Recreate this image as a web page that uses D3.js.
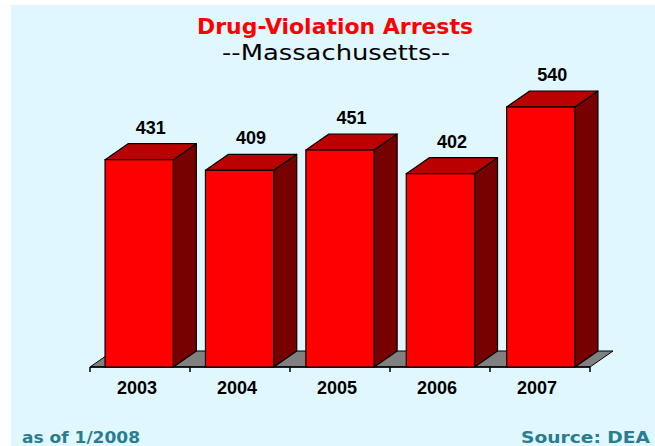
<!DOCTYPE html>
<html>
<head>
<meta charset="utf-8">
<script src="https://cdn.jsdelivr.net/npm/d3@7"></script>
<style>
  body { margin: 0; background: #fff; }
  svg { display: block; }
</style>
</head>
<body>
<script>
// chart data
var years = ['2003', '2004', '2005', '2006', '2007'];
var arrests = [431, 409, 451, 402, 540];

var width = 655, height = 446;
var depth = { dx: 23, dy: -16 };

var svg = d3.select('body').append('svg')
  .attr('width', width)
  .attr('height', height);

// light cyan panel
svg.append('rect')
  .attr('x', 11).attr('y', 5)
  .attr('width', width - 11).attr('height', height - 5)
  .attr('fill', '#e0f7fe');

// scales
var band = d3.scaleBand().domain(years).range([90, 590]);          // category slots / ticks
var x = d3.scaleBand().domain(years).range([90, 590])
  .paddingInner(0.32).paddingOuter(0.15);                             // bar fronts
var y = d3.scaleLinear().domain([0, 540]).range([368, 107]);

var base = y(0) - 1;

// titles
svg.append('text')
  .attr('x', 197).attr('y', 34)
  .attr('textLength', 276).attr('lengthAdjust', 'spacingAndGlyphs')
  .style('font-family', '"DejaVu Sans", sans-serif')
  .style('font-size', '21px')
  .style('font-weight', 'bold')
  .attr('fill', '#ff0000')
  .text('Drug-Violation Arrests');

svg.append('text')
  .attr('x', 222).attr('y', 60)
  .attr('textLength', 228).attr('lengthAdjust', 'spacingAndGlyphs')
  .style('font-family', '"DejaVu Sans", sans-serif')
  .style('font-size', '21px')
  .attr('fill', '#000')
  .text('--Massachusetts--');

// gray floor
var x0 = band.range()[0], x1 = band.range()[1];
svg.append('path')
  .attr('d', 'M' + x0 + ',' + base +
    'L' + (x0 + depth.dx) + ',' + (base + depth.dy) +
    'L' + (x1 + depth.dx) + ',' + (base + depth.dy) +
    'L' + x1 + ',' + base + 'Z')
  .attr('fill', '#808080')
  .attr('stroke', '#000')
  .attr('stroke-width', 1);

// axis line + ticks at slot edges
svg.append('line')
  .attr('x1', x0).attr('x2', x1)
  .attr('y1', base).attr('y2', base)
  .attr('stroke', '#000').attr('stroke-width', 1.5);

var edges = years.map(function(d) { return band(d); }).concat([x1]);
svg.selectAll('.tick')
  .data(edges)
  .enter().append('line')
  .attr('x1', function(d) { return d; })
  .attr('x2', function(d) { return d; })
  .attr('y1', base).attr('y2', base + 5)
  .attr('stroke', '#000').attr('stroke-width', 1.5);

// 3d bars
var data = years.map(function(d, i) { return { year: d, value: arrests[i] }; });

var bars = svg.selectAll('.bar')
  .data(data)
  .enter().append('g')
  .attr('class', 'bar');

// side face
bars.append('path')
  .attr('d', function(d) {
    var r = x(d.year) + x.bandwidth(), t = y(d.value);
    return 'M' + r + ',' + base + 'L' + r + ',' + t +
      'L' + (r + depth.dx) + ',' + (t + depth.dy) +
      'L' + (r + depth.dx) + ',' + (base + depth.dy) + 'Z';
  })
  .attr('fill', '#770000')
  .attr('stroke', '#000').attr('stroke-width', 1.2)
  .attr('stroke-linejoin', 'round');

// top face
bars.append('path')
  .attr('d', function(d) {
    var l = x(d.year), r = l + x.bandwidth(), t = y(d.value);
    return 'M' + l + ',' + t + 'L' + (l + depth.dx) + ',' + (t + depth.dy) +
      'L' + (r + depth.dx) + ',' + (t + depth.dy) + 'L' + r + ',' + t + 'Z';
  })
  .attr('fill', '#bb0000')
  .attr('stroke', '#000').attr('stroke-width', 1.2)
  .attr('stroke-linejoin', 'round');

// front face
bars.append('rect')
  .attr('x', function(d) { return x(d.year); })
  .attr('y', function(d) { return y(d.value); })
  .attr('width', x.bandwidth())
  .attr('height', function(d) { return base - y(d.value); })
  .attr('fill', '#ff0000')
  .attr('stroke', '#000').attr('stroke-width', 1.2);

// value labels
bars.append('text')
  .attr('x', function(d) { return x(d.year) + x.bandwidth() / 2 + depth.dx / 2; })
  .attr('y', function(d) { return y(d.value) + depth.dy - 10; })
  .attr('text-anchor', 'middle')
  .style('font-family', '"Liberation Sans", Arial, sans-serif')
  .style('font-size', '18px')
  .style('font-weight', 'bold')
  .attr('fill', '#000')
  .text(function(d) { return d.value; });

// year labels
svg.selectAll('.year')
  .data(years)
  .enter().append('text')
  .attr('x', function(d) { return band(d) + band.bandwidth() / 2 - 3; })
  .attr('y', 394)
  .attr('text-anchor', 'middle')
  .style('font-family', '"Liberation Sans", Arial, sans-serif')
  .style('font-size', '18px')
  .style('font-weight', 'bold')
  .attr('fill', '#000')
  .text(function(d) { return d; });

// footer notes
svg.append('text')
  .attr('x', 22).attr('y', 443)
  .attr('textLength', 118).attr('lengthAdjust', 'spacingAndGlyphs')
  .style('font-family', '"DejaVu Sans", sans-serif')
  .style('font-size', '15px')
  .style('font-weight', '600')
  .attr('fill', '#2b7c8e')
  .text('as of 1/2008');

svg.append('text')
  .attr('x', 521).attr('y', 443)
  .attr('textLength', 129).attr('lengthAdjust', 'spacingAndGlyphs')
  .style('font-family', '"DejaVu Sans", sans-serif')
  .style('font-size', '15px')
  .style('font-weight', '600')
  .attr('fill', '#2b7c8e')
  .text('Source: DEA');
</script>
</body>
</html>
